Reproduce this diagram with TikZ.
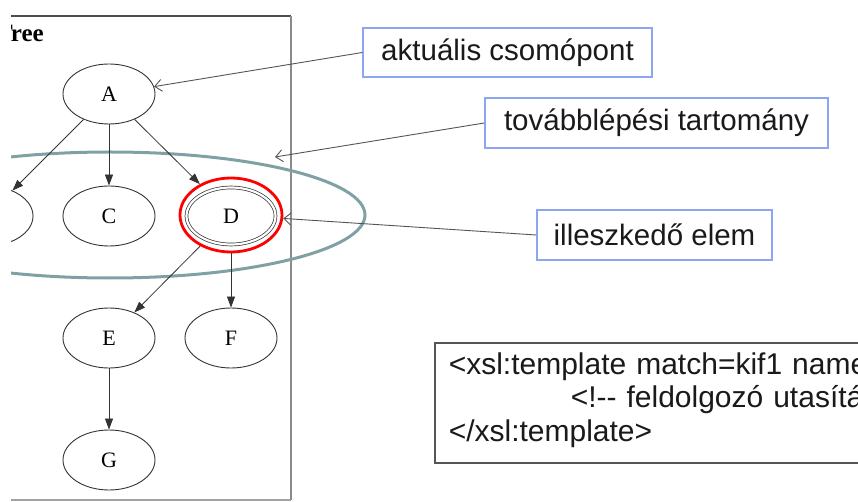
\documentclass[tikz,border=0pt]{standalone}
\usepackage{fontspec}
\setmainfont{Liberation Serif}
\setsansfont{Liberation Sans}
\usetikzlibrary{arrows.meta,shapes.geometric}
\definecolor{callblue}{HTML}{8CA6F4}
\definecolor{rangeteal}{HTML}{7FA1A4}
\definecolor{leadgray}{HTML}{555555}
\definecolor{framegray}{HTML}{8A8A8A}
\definecolor{textdark}{HTML}{1A1A1A}

\begin{document}
\begin{tikzpicture}[x=1pt,y=-1pt,
  treenode/.style={draw=black!80, ellipse, line width=0.9pt,
    minimum width=92pt, minimum height=60pt, inner sep=0pt,
    font=\fontsize{22}{24}\selectfont},
  treeedge/.style={draw=black!80, line width=0.8pt,
    -{Triangle[length=11pt,width=8pt]}},
  callout/.style={draw=callblue, line width=1.5pt, fill=white,
    inner sep=0pt, text=textdark,
    font=\sffamily\fontsize{29.5}{34}\selectfont},
  leader/.style={draw=leadgray, line width=0.9pt,
    -{Straight Barb[length=7pt,width=12pt]}},
  codebox/.style={draw=leadgray, line width=1.5pt, fill=white,
    inner xsep=0pt, inner ysep=0pt, text=textdark, align=left,
    font=\sffamily\fontsize{30}{33.5}\selectfont}
]
\useasboundingbox (0,0) rectangle (858,502);

\begin{scope}
  \clip (11,0) rectangle (858,502);

  % frame of the tree panel
  \draw[black!70, line width=1.2pt] (0,16) -- (291,16);
  \draw[framegray, line width=2pt] (291,16) -- (291,500);
  \draw[framegray!80, line width=1.2pt] (0,500) -- (291,500);
  \node[anchor=base east, inner sep=0pt,
        font=\bfseries\fontsize{25}{28}\selectfont] (treelabel) at (44,42) {Tree};

  % the tree
  \node[treenode] (A) at (109,94)  {A};
  \node[treenode] (B) at (-13,216) {};
  \node[treenode] (C) at (109,216) {C};
  \node[treenode, double, double distance=2.2pt, line width=0.7pt,
        minimum width=89pt, minimum height=57pt] (D) at (231,216) {D};
  \node[treenode] (E) at (109,338) {E};
  \node[treenode] (F) at (231,338) {F};
  \node[treenode] (G) at (109,460) {G};

  % range of the next step and the matched element
  \node[draw=rangeteal, line width=3pt, ellipse, minimum width=510pt,
        minimum height=126pt, inner sep=0pt] (range) at (110,215) {};
  \node[draw=red, line width=2.8pt, ellipse, minimum width=102pt,
        minimum height=74pt, inner sep=0pt] (Dmark) at (231,215) {};

  \draw[treeedge] (A) -- (B);
  \draw[treeedge] (A) -- (C);
  \draw[treeedge] (A) -- (Dmark);
  \draw[treeedge] (Dmark) -- (E);
  \draw[treeedge] (Dmark) -- (F);
  \draw[treeedge] (E) -- (G);

  % callouts
  \node[callout, minimum width=289pt, minimum height=49pt]
    (cur) at (507.5,52.5) {aktuális csomópont};
  \node[callout, minimum width=343pt, minimum height=50pt]
    (nxt) at (656.5,123) {továbblépési tartomány};
  \node[callout, minimum width=235pt, minimum height=50pt]
    (match) at (654.5,235) {illeszkedő elem};
  \coordinate (rangept) at (275,157);

  \draw[leader] (cur.west) -- (A);
  \draw[leader] (nxt.west) -- (rangept);
  \draw[leader] (match.west) -- (Dmark);

  % template code
  \draw[codebox] (435,343) rectangle (900,463);
  \node[codebox, draw=none, fill=none, anchor=base west, text width=500pt]
    (code) at (448,374)
    {<xsl:template match=kif1 name\\
     \hspace*{122pt}<!-{}- feldolgozó utasítá\\
     </xsl:template>};
\end{scope}
\end{tikzpicture}
\end{document}
